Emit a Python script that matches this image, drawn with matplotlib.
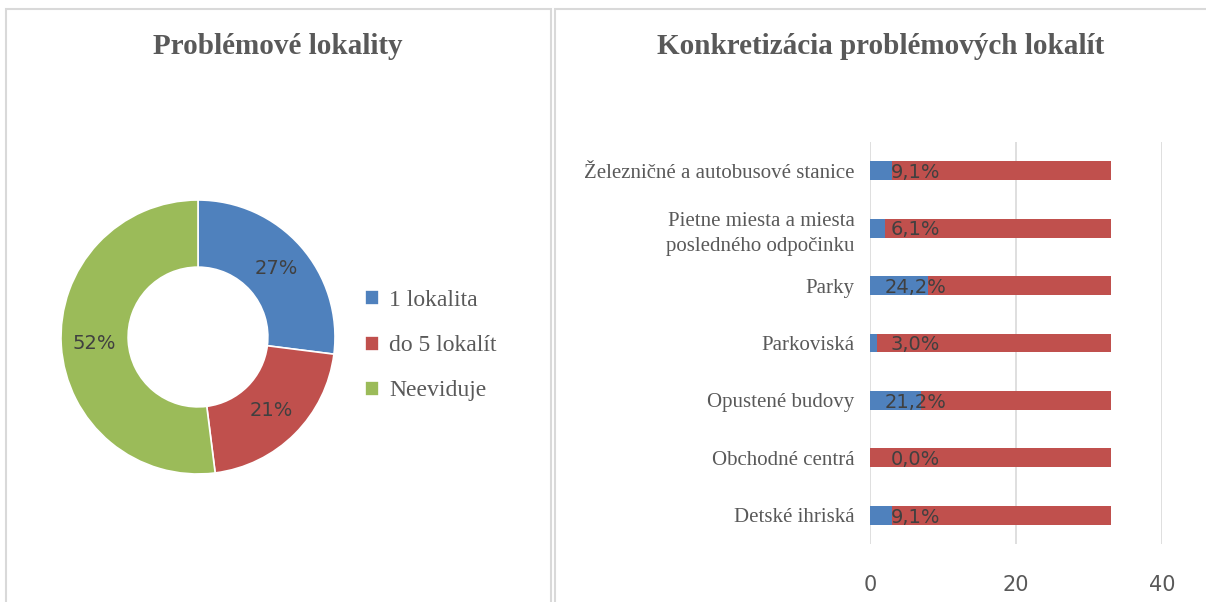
import matplotlib
matplotlib.use("Agg")
import matplotlib.pyplot as plt
from matplotlib.patches import Rectangle

# donut data
pie_labels = ["1 lokalita", "do 5 lokalít", "Neeviduje"]
pie_values = [27, 21, 52]

# bar data (counts, top to bottom as shown)
categories = ["Železničné a autobusové stanice",
              "Pietne miesta a miesta\nposledného odpočinku",
              "Parky", "Parkoviská", "Opustené budovy",
              "Obchodné centrá", "Detské ihriská"]
yes_counts = [3, 2, 8, 1, 7, 0, 3]
no_counts = [30, 31, 25, 32, 26, 33, 30]
pct_labels = ["9,1%", "6,1%", "24,2%", "3,0%", "21,2%", "0,0%", "9,1%"]
x_ticks = [0, 20, 40]

BLUE = "#4F81BD"
RED = "#C0504D"
GREEN = "#9BBB59"
GRID = "#D9D9D9"
TXT = "#595959"

W, H = 1206, 602
fig = plt.figure(figsize=(W / 100, H / 100), dpi=100)

def px_axes(x0, y0, x1, y1):
    # pixel box (top-left origin) -> figure axes
    return fig.add_axes([x0 / W, 1 - y1 / H, (x1 - x0) / W, (y1 - y0) / H])

# panel borders
fig.patches.append(Rectangle((6 / W, -0.05), 545 / W, 1.05 - 9 / H,
                             transform=fig.transFigure, fill=False,
                             edgecolor=GRID, lw=1.5))
fig.patches.append(Rectangle((555 / W, -0.05), 660 / W, 1.05 - 9 / H,
                             transform=fig.transFigure, fill=False,
                             edgecolor=GRID, lw=1.5))

fig.text(278 / W, 1 - 47 / H, "Problémové lokality", ha="center", va="center",
         family="Liberation Serif", fontweight="bold", fontsize=21, color=TXT)
fig.text(881 / W, 1 - 47 / H, "Konkretizácia problémových lokalít", ha="center",
         va="center", family="Liberation Serif", fontweight="bold", fontsize=21,
         color=TXT)

# donut
cx, cy, R = 198, 337, 137
ax1 = px_axes(cx - 150, cy - 150, cx + 150, cy + 150)
wedges, _, autotexts = ax1.pie(pie_values, colors=[BLUE, RED, GREEN],
                               startangle=90, counterclock=False,
                               autopct="%d%%", pctdistance=0.76,
                               wedgeprops=dict(width=0.49, edgecolor="white", linewidth=1.2),
                               textprops=dict(color="#404040", fontsize=14,
                                              family="DejaVu Sans"))
ax1.set_xlim(-150 / R, 150 / R)
ax1.set_ylim(-150 / R, 150 / R)
ax1.set_aspect("equal")

leg = fig.legend(wedges, pie_labels, loc="upper left",
                 bbox_to_anchor=(344 / W, 1 - 269 / H), frameon=False,
                 prop=dict(family="Liberation Serif", size=17),
                 handlelength=0.6, handleheight=0.6, handletextpad=0.4,
                 labelspacing=1.02)
for t in leg.get_texts():
    t.set_color(TXT)

# bars
ax2 = px_axes(870, 142, 1162, 544)
y = list(range(len(categories)))
ax2.barh(y, yes_counts, height=0.33, color=BLUE)
ax2.barh(y, no_counts, left=yes_counts, height=0.33, color=RED)
for yi, lab in zip(y, pct_labels):
    ax2.text(6.2, yi + 0.03, lab, ha="center", va="center", fontsize=14,
             color="#404040", family="DejaVu Sans")
ax2.set_xlim(0, 40)
ax2.set_ylim(len(categories) - 0.5, -0.5)
ax2.set_xticks(x_ticks)
ax2.set_yticks(y)
ax2.set_yticklabels(categories, family="Liberation Serif", fontsize=15,
                    color=TXT, linespacing=1.45)
ax2.tick_params(axis="y", length=0, pad=11)
ax2.tick_params(axis="x", length=0, pad=22, labelsize=15, labelcolor=TXT)
for s in ax2.spines.values():
    s.set_visible(False)
ax2.grid(axis="x", color=GRID, lw=1.2)
ax2.set_axisbelow(True)

fig.savefig("out.png", dpi=100)
